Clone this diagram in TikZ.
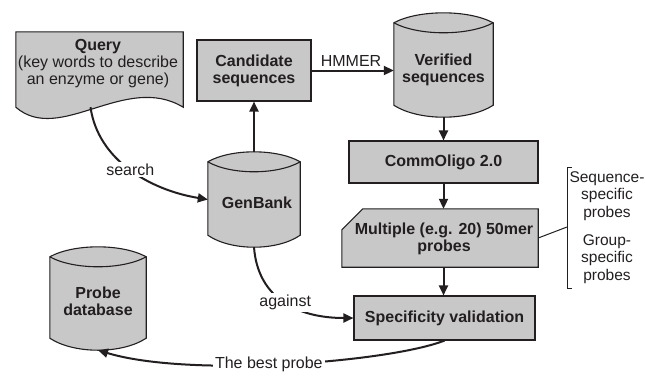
\documentclass[tikz,border=0pt]{standalone}
\usepackage{fontspec}
\setmainfont{Liberation Sans}
\usetikzlibrary{calc,arrows.meta}
\definecolor{boxgray}{RGB}{200,200,200}
\definecolor{ink}{RGB}{35,31,32}
\newcommand\drawcyl[1]{%
  \coordinate (#1A) at ($(#1.north west)+(0,10)$);
  \coordinate (#1B) at ($(#1.north east)+(0,10)$);
  \coordinate (#1C) at ($(#1.south east)+(0,-12)$);
  \coordinate (#1D) at ($(#1.south west)+(0,-12)$);
  \path[shapeline] (#1A) -- (#1D) .. controls ($(#1D)!0.25!(#1C)+(0,16)$) and ($(#1D)!0.75!(#1C)+(0,16)$) .. (#1C)
     -- (#1B) .. controls ($(#1B)!0.25!(#1A)+(0,-13.3)$) and ($(#1B)!0.75!(#1A)+(0,-13.3)$) .. (#1A) -- cycle;
  \draw[outline] (#1A) .. controls ($(#1A)!0.25!(#1B)+(0,13.3)$) and ($(#1A)!0.75!(#1B)+(0,13.3)$) .. (#1B);
}
\begin{document}
\begin{tikzpicture}[x=1pt,y=-1pt,
  outline/.style={draw=ink, line width=1.1pt},
  shapeline/.style={outline, fill=boxgray},
  holder/.style={draw=none, inner sep=0pt},
  boxnode/.style={shapeline, inner sep=0pt, text=ink, align=center, font=\bfseries\fontsize{16}{17}\selectfont},
  boldtext/.style={inner sep=0pt, text=ink, align=center, font=\bfseries\fontsize{16}{17}\selectfont},
  plaintext/.style={inner sep=0pt, text=ink, align=center, font=\fontsize{16}{17}\selectfont},
  sidetext/.style={inner sep=0pt, text=ink, align=center, font=\fontsize{15.5}{17.5}\selectfont},
  lbl/.style={fill=white, inner sep=2pt, text=ink, font=\fontsize{16}{17}\selectfont},
  conn/.style={draw=ink, line width=2pt, -{Triangle[length=10pt,width=9pt]}},
  thinline/.style={draw=ink, line width=1pt}
]
\useasboundingbox (0,0) rectangle (645,376);

% Query document
\node[holder, minimum width=167, minimum height=75] (q) at (99.5,69.5) {};
\path[shapeline] (q.south west) -- (q.north west) -- (q.north east) -- (q.south east)
  .. controls ($(q.south east)+(-58,-35)$) and ($(q.south west)+(44,38)$) .. (q.south west) -- cycle;
\node[plaintext] (qT) at (98,64) {\textbf{Query}\\(key words to describe\\an enzyme or gene)};

% Rectangular boxes
\node[boxnode, minimum width=114, minimum height=61] (cand) at (254,70.5) {Candidate\\sequences};
\node[boxnode, minimum width=189, minimum height=42] (co) at (443.5,162) {CommOligo 2.0};
\node[boxnode, minimum width=181, minimum height=44] (spec) at (444.5,318) {Specificity validation};

% Multiple probes (cut corner)
\node[holder, minimum width=196, minimum height=58] (mult) at (440,238) {};
\path[shapeline] ($(mult.north west)+(0,21)$) -- ($(mult.north west)+(21,0)$) -- (mult.north east)
  -- (mult.south east) -- (mult.south west) -- cycle;
\node[boldtext] (multT) at (444,239) {Multiple (e.g. 20) 50mer\\probes};

% Cylinders
\node[holder, minimum width=99, minimum height=104] (ver) at (443.5,65) {};
\node[holder, minimum width=92, minimum height=95] (gb) at (254,199.5) {};
\node[holder, minimum width=96, minimum height=103] (pdb) at (98,298.5) {};
\drawcyl{ver}
\drawcyl{gb}
\drawcyl{pdb}
\node[boldtext] (verT) at (443.5,70) {Verified\\sequences};
\node[boldtext] (gbT) at (257,203) {GenBank};
\node[boldtext] (pdbT) at (98,301.5) {Probe\\database};

% Connectors
\draw[conn] ($(q.south)+(-9,0)$) .. controls (98,160) and (150,190) .. (gb.west)
  node[lbl, pos=0.5] (searchL) {search};
\draw[conn] (gb.north) -- (cand.south);
\draw[conn] (cand.east) -- (cand.east -| ver.west)
  node[pos=0.48, above, inner sep=3pt, text=ink, font=\fontsize{16}{17}\selectfont] (hmL) {HMMER};
\draw[conn] (ver.south) -- (co.north);
\draw[conn] (co.south) -- (co.south |- mult.north);
\draw[conn] (co.south |- mult.south) -- (co.south |- spec.north);
\draw[conn] (gb.south) .. controls (258,300) and (300,318) .. (spec.west)
  node[lbl, pos=0.5] (agL) {against};
\draw[conn] (spec.south) .. controls (390,362) and (190,378) .. (pdb.south)
  node[lbl, pos=0.54] (bestL) {The best probe};

% Bracket
\coordinate (brT) at (567,167);
\coordinate (brB) at (567,288);
\coordinate (brM) at (567,227);
\draw[thinline] ($(brT)+(5,0)$) -- (brT) -- (brB) -- ($(brB)+(5,0)$);
\draw[thinline] (mult.east) -- (brM);
\node[sidetext] (seqT) at (607,196) {Sequence-\\specific\\probes};
\node[sidetext] (grpT) at (607,259) {Group-\\specific\\probes};
\end{tikzpicture}
\end{document}
